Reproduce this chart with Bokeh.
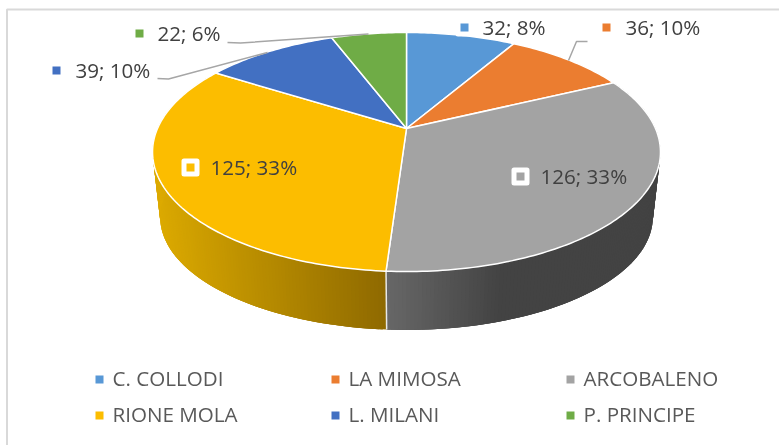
import math
from bokeh.plotting import figure
from bokeh.models import Range1d
from bokeh.core.properties import value
from bokeh.embed import file_html
from bokeh.resources import INLINE

categories = ["C. COLLODI", "LA MIMOSA", "ARCOBALENO", "RIONE MOLA", "L. MILANI", "P. PRINCIPE"]
values = [32, 36, 126, 125, 39, 22]
percents = [8, 10, 33, 33, 10, 6]
colors = ["#5898D6", "#EB7D30", "#A3A3A3", "#FCBD00", "#4270C2", "#6FAC46"]
FONT = "Open Sans"
TEXT_SIZE = "20.6px"

W, H = 779, 445
p = figure(width=W, height=H, x_range=Range1d(0, W), y_range=Range1d(H, 0),
           output_backend="svg", toolbar_location=None, min_border=0,
           x_axis_location=None, y_axis_location=None, outline_line_color=None,
           background_fill_color="white", border_fill_color="white")
p.grid.visible = False
p.styles = {"position": "fixed", "left": "0px", "top": "0px"}

# perspective disc geometry
CX, CY, A, C, K = 406.0, 128.0, 249.0, 114.9, 0.1967
def top_pt(t):
    u, v = math.sin(t), math.cos(t)
    w = 1 + K * v
    return CX + A * u / w, CY - C * v / w
def bottom_pt(t):
    x, y = top_pt(t)
    return CX + (x - CX) * 0.97, 216 + (y - 151) * 0.945

total = sum(values)
edges = [0.0]
for v in values:
    edges.append(edges[-1] + v / total * 2 * math.pi)

def mix(c1, c2, f):
    f = max(0.0, min(1.0, f))
    return "#%02x%02x%02x" % tuple(round(a + (b - a) * f) for a, b in zip(c1, c2))

def wall_color(i, x):
    if i == 3:   # yellow wall darkens toward the front
        return mix((0xDC, 0xAA, 0x00), (0x8F, 0x6A, 0x00), (x - 160) / (386 - 160))
    return mix((0x68, 0x68, 0x68), (0x43, 0x43, 0x43), (x - 386) / (500 - 386))

# side walls, painted in order with each strip overlapping the next
for i in (2, 3):
    t0, t1 = edges[i], edges[i + 1]
    n = 160
    xs, ys, cs = [], [], []
    for k in range(n):
        a, b = t0 + (t1 - t0) * k / n, t0 + (t1 - t0) * (k + 3) / n
        b = min(b, t1)
        q = [top_pt(a), top_pt(b), bottom_pt(b), bottom_pt(a)]
        xs.append([pt[0] for pt in q])
        ys.append([pt[1] for pt in q])
        cs.append(wall_color(i, bottom_pt(a)[0]))
    p.patches(xs, ys, fill_color=cs, line_color=None)

# wall divider at the yellow / gray boundary
t = edges[3]
p.line([top_pt(t)[0], bottom_pt(t)[0]], [top_pt(t)[1], bottom_pt(t)[1]], line_color="#E8E8E8", line_width=1.5)

# top face
wx, wy = [], []
for i in range(len(values)):
    t0, t1 = edges[i], edges[i + 1]
    n = max(8, int((t1 - t0) * 60))
    pts = [(CX, CY)] + [top_pt(t0 + (t1 - t0) * k / n) for k in range(n + 1)]
    wx.append([q[0] for q in pts])
    wy.append([q[1] for q in pts])
p.patches(wx, wy, fill_color=colors, line_color="white", line_width=1.5, line_join="round")

# frame (left and top only are inside the picture)
p.line([6.5, 6.5, W], [H, 9, 9], line_color="#D9D9D9", line_width=2)

# leader lines
leader_color = "#A6A6A6"
p.line([227, 240, 368], [42, 42.5, 33.5], line_color=leader_color, line_width=1.5)
p.line([157, 168, 267], [78, 78.5, 52], line_color=leader_color, line_width=1.5)
p.line([587, 576, 568], [41, 41, 60], line_color=leader_color, line_width=1.5)

# data labels
label_mx = [464, 606, 520, 190, 56, 139]
label_my = [27, 27, 176, 167, 70, 33]
label_tx = [482, 625, 540, 210, 75, 157]
label_ty = [26.5, 26.5, 175, 166.5, 69, 32]
labels = [f"{v}; {q}%" for v, q in zip(values, percents)]
boxes = [0, 2, 3]
p.scatter([label_mx[i] for i in boxes], [label_my[i] for i in boxes], marker="square", size=13,
          fill_color="white", line_color="white", line_join="round", line_width=5)
p.scatter(label_mx, label_my, marker="square", size=8, fill_color=colors, line_color=None)
p.text(label_tx, label_ty, text=labels, text_font=value(FONT), text_font_size=value(TEXT_SIZE),
       text_color="#404040", text_baseline="middle", text_align="left")

# legend
leg_mx = [99, 335, 570, 99, 335, 570]
leg_my = [379, 379, 379, 415, 415, 415]
leg_ty = [377.5, 377.5, 377.5, 413.5, 413.5, 413.5]
leg_tx = [112, 348, 583, 112, 348, 583]
p.scatter(leg_mx, leg_my, marker="square", size=8, fill_color=colors, line_color=None)
p.text(leg_tx, leg_ty, text=categories, text_font=value(FONT), text_font_size=value(TEXT_SIZE),
       text_color="#595959", text_baseline="middle", text_align="left")

open("out.html", "w").write(file_html(p, INLINE))
